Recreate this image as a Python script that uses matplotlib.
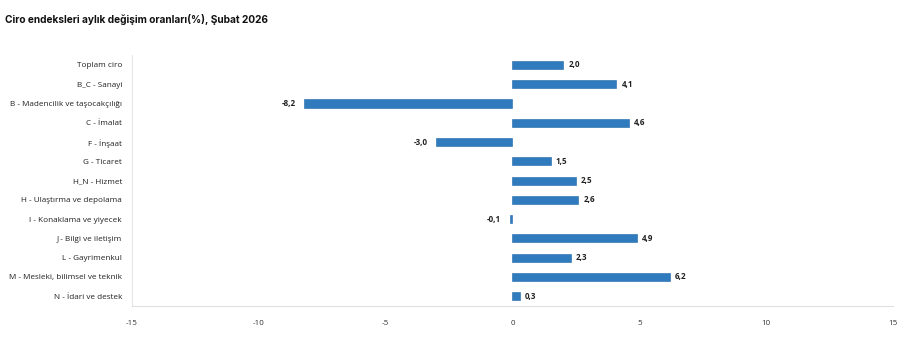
import matplotlib
matplotlib.use("Agg")
import matplotlib.pyplot as plt

plt.rcParams['font.family'] = ['Open Sans', 'DejaVu Sans']

categories = [
    "Toplam ciro",
    "B_C - Sanayi",
    "B - Madencilik ve taşocakçılığı",
    "C - İmalat",
    "F - İnşaat",
    "G - Ticaret",
    "H_N - Hizmet",
    "H - Ulaştırma ve depolama",
    "I - Konaklama ve yiyecek",
    "J - Bilgi ve iletişim",
    "L - Gayrimenkul",
    "M - Mesleki, bilimsel ve teknik",
    "N - İdari ve destek",
]
values = [2.0, 4.1, -8.2, 4.6, -3.0, 1.5, 2.5, 2.6, -0.1, 4.9, 2.3, 6.2, 0.3]
x_ticks = [-15, -10, -5, 0, 5, 10, 15]
title = "Ciro endeksleri aylık değişim oranları(%), Şubat 2026"

fig = plt.figure(figsize=(9.03, 3.46), dpi=100)
ax = fig.add_axes([0.146, 0.116, 0.843, 0.724])

y = list(range(len(categories)))
ax.barh(y, values, height=0.42, color="#2f7bbd", edgecolor="#1f66a8", linewidth=0.4)

for yi, v in zip(y, values):
    label = f"{v:.1f}".replace(".", ",")
    if v >= 0:
        ax.text(v + 0.2, yi, label, va="center", ha="left", fontsize=5.8,
                fontweight="bold", color="#222222")
    else:
        ax.text(v - 0.35, yi, label, va="center", ha="right", fontsize=5.8,
                fontweight="bold", color="#222222")

ax.set_xlim(-15, 15)
ax.set_ylim(len(categories) - 0.5, -0.5)
ax.set_xticks(x_ticks)
ax.set_xticklabels([str(t) for t in x_ticks], fontsize=5.8, color="#333333")
ax.set_yticks(y)
ax.set_yticklabels(categories, fontsize=5.9, color="#222222")
ax.tick_params(axis="both", length=0)
ax.tick_params(axis="x", pad=10)
ax.tick_params(axis="y", pad=7)

for side in ["top", "right"]:
    ax.spines[side].set_visible(False)
ax.spines["left"].set_color("#e6e6e6")
ax.spines["bottom"].set_color("#e0e0e0")
ax.spines["left"].set_linewidth(0.8)
ax.spines["bottom"].set_linewidth(0.8)

fig.text(0.006, 0.945, title, fontsize=7.3, fontweight="bold", color="#111111",
         ha="left", va="center", family=["Inter", "DejaVu Sans"])

fig.savefig("out.png", dpi=100)
